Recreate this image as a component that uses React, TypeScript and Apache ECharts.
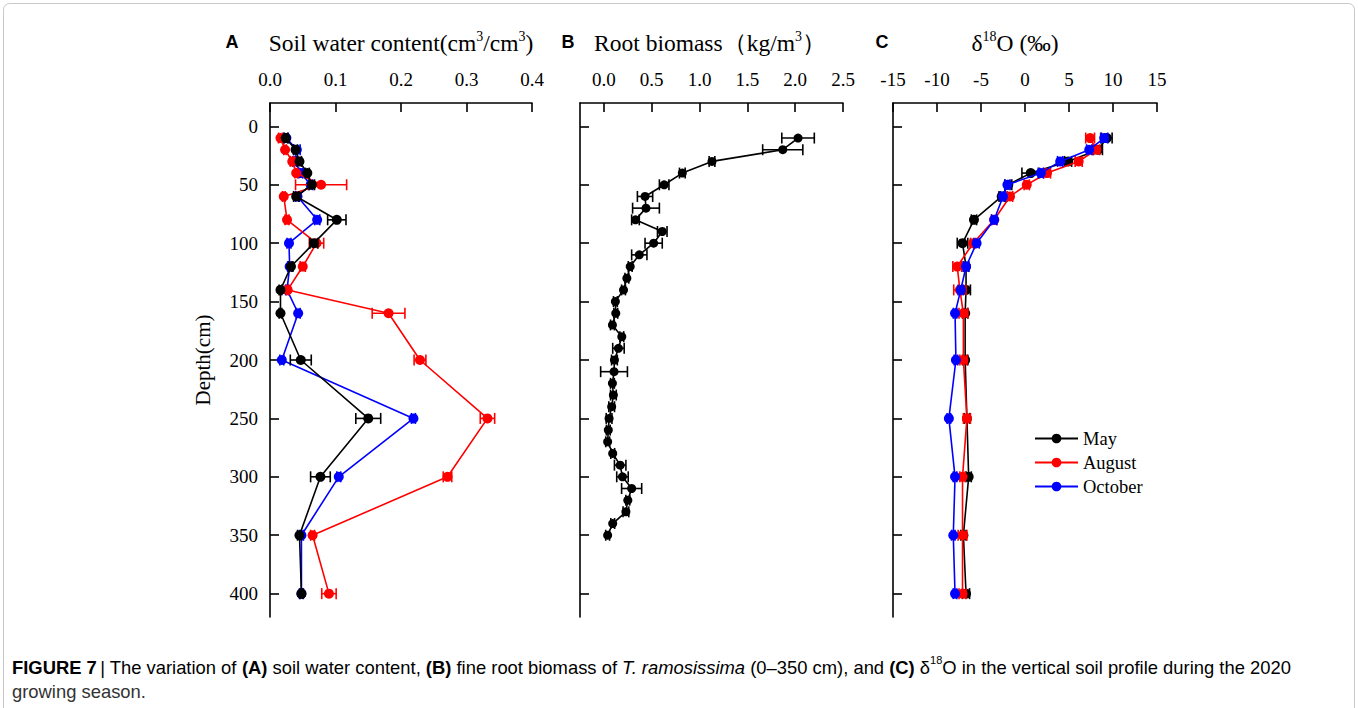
import React, { useEffect, useRef } from 'react';
import * as echarts from 'echarts';

// ---------- Data ----------
const depthA = [10, 20, 30, 40, 50, 60, 80, 100, 120, 140, 160, 200, 250, 300, 350, 400];
const swcMay = [0.024, 0.039, 0.045, 0.057, 0.064, 0.040, 0.102, 0.067, 0.032, 0.016, 0.016, 0.047, 0.150, 0.077, 0.045, 0.048];
const swcMayErr = [0.003, 0.003, 0.003, 0.003, 0.004, 0.004, 0.014, 0.006, 0.003, 0.002, 0.002, 0.016, 0.019, 0.015, 0.003, 0.002];
const swcAug = [0.016, 0.023, 0.034, 0.040, 0.078, 0.021, 0.026, 0.071, 0.050, 0.027, 0.181, 0.229, 0.332, 0.271, 0.065, 0.090];
const swcAugErr = [0.003, 0.002, 0.003, 0.002, 0.039, 0.002, 0.003, 0.011, 0.004, 0.002, 0.025, 0.009, 0.011, 0.0065, 0.003, 0.011];
const swcOct = [0.025, 0.041, 0.038, 0.047, 0.062, 0.042, 0.072, 0.029, 0.030, 0.026, 0.043, 0.018, 0.219, 0.105, 0.048, 0.048];
const swcOctErr = [0.003, 0.005, 0.003, 0.003, 0.003, 0.003, 0.004, 0.003, 0.003, 0.002, 0.003, 0.003, 0.003, 0.003, 0.003, 0.003];

const depthB = [10, 20, 30, 40, 50, 60, 70, 80, 90, 100, 110, 120, 130, 140, 150, 160, 170, 180, 190, 200, 210, 220, 230, 240, 250, 260, 270, 280, 290, 300, 310, 320, 330, 340, 350];
const rootBiomass = [2.03, 1.87, 1.13, 0.82, 0.63, 0.43, 0.44, 0.33, 0.61, 0.52, 0.37, 0.275, 0.24, 0.205, 0.12, 0.124, 0.089, 0.187, 0.152, 0.11, 0.106, 0.089, 0.099, 0.081, 0.054, 0.046, 0.039, 0.092, 0.17, 0.194, 0.29, 0.25, 0.23, 0.092, 0.039];
const rootBiomassErr = [0.17, 0.21, 0.03, 0.03, 0.05, 0.08, 0.14, 0.04, 0.05, 0.09, 0.08, 0.02, 0.02, 0.02, 0.02, 0.02, 0.02, 0.02, 0.06, 0.03, 0.14, 0.02, 0.03, 0.03, 0.03, 0.02, 0.02, 0.02, 0.06, 0.06, 0.105, 0.02, 0.03, 0.02, 0.02];

const depthC = [10, 20, 30, 40, 50, 60, 80, 100, 120, 140, 160, 200, 250, 300, 350, 400];
const d18oMay = [9.3, 8.3, 4.9, 0.65, -1.9, -2.65, -5.8, -7.1, -6.7, -6.7, -6.8, -6.8, -6.6, -6.4, -7.0, -6.7];
const d18oMayErr = [0.6, 0.5, 0.4, 1.0, 0.4, 0.3, 0.3, 0.6, 0.3, 0.5, 0.3, 0.3, 0.3, 0.3, 0.3, 0.4];
const d18oAug = [7.4, 8.1, 6.1, 2.5, 0.2, -1.7, -3.5, -5.9, -7.7, -7.4, -7.0, -7.0, -6.6, -7.1, -7.1, -7.1];
const d18oAugErr = [0.5, 0.4, 0.4, 0.4, 0.3, 0.3, 0.3, 0.3, 0.5, 0.7, 0.5, 0.4, 0.4, 0.3, 0.5, 0.4];
const d18oOct = [9.0, 7.3, 4.0, 1.8, -2.0, -2.5, -3.5, -5.5, -6.7, -7.3, -7.95, -7.85, -8.65, -7.95, -8.15, -7.95];
const d18oOctErr = [0.4, 0.3, 0.3, 0.3, 0.3, 0.3, 0.3, 0.3, 0.3, 0.3, 0.2, 0.2, 0.2, 0.2, 0.2, 0.2];

const depthTicks = [0, 50, 100, 150, 200, 250, 300, 350, 400];
const biomassTicks = [0, 0.5, 1.0, 1.5, 2.0, 2.5];
const legendNames = ['May', 'August', 'October'];

const SERIF = '"Liberation Serif", "Times New Roman", serif';
const SANS = '"Liberation Sans", Arial, sans-serif';

const C_MAY = '#000000';
const C_AUG = '#ff0000';
const C_OCT = '#0000ff';

function lineSeries(name: string, xs: number[], ys: number[], idx: number, color: string, z: number, size = 10) {
  return {
    type: 'line',
    name,
    xAxisIndex: idx,
    yAxisIndex: idx,
    data: xs.map((v, i) => [v, ys[i]]),
    symbol: 'circle',
    symbolSize: size,
    showSymbol: true,
    color,
    itemStyle: { color },
    lineStyle: { color, width: 1.6 },
    z,
    silent: true,
  };
}

function errSeries(name: string, xs: number[], ys: number[], es: number[], idx: number, color: string, z: number) {
  return {
    type: 'custom',
    name: name + ' err',
    xAxisIndex: idx,
    yAxisIndex: idx,
    data: xs.map((v, i) => [v, ys[i], es[i]]),
    encode: { x: 0, y: 1 },
    color,
    itemStyle: { color },
    z,
    silent: true,
    renderItem: (params: any, api: any) => {
      const x = api.value(0);
      const y = api.value(1);
      const e = api.value(2);
      const p1 = api.coord([x - e, y]);
      const p2 = api.coord([x + e, y]);
      const h = 5.5;
      const st = { stroke: color, lineWidth: 1.6 };
      return {
        type: 'group',
        children: [
          { type: 'line', shape: { x1: p1[0], y1: p1[1], x2: p2[0], y2: p2[1] }, style: st },
          { type: 'line', shape: { x1: p1[0], y1: p1[1] - h, x2: p1[0], y2: p1[1] + h }, style: st },
          { type: 'line', shape: { x1: p2[0], y1: p2[1] - h, x2: p2[0], y2: p2[1] + h }, style: st },
        ],
      };
    },
  };
}

const axisLineStyle = { color: '#000', width: 1.6 };

function xAxisCfg(idx: number, min: number, max: number, extra: any) {
  return {
    type: 'value',
    gridIndex: idx,
    position: 'top',
    min,
    max,
    axisLine: { show: true, onZero: false, lineStyle: axisLineStyle },
    axisTick: { show: true, inside: true, length: 9, lineStyle: axisLineStyle },
    axisLabel: { fontFamily: SERIF, fontSize: 19, color: '#000', margin: 14 },
    splitLine: { show: false },
    ...extra,
  };
}

function yAxisCfg(idx: number, showLabel: boolean) {
  return {
    type: 'value',
    gridIndex: idx,
    inverse: true,
    min: -20,
    max: 420,
    axisLine: { show: true, onZero: false, lineStyle: axisLineStyle },
    axisTick: { show: true, inside: true, length: 9, lineStyle: axisLineStyle, customValues: depthTicks },
    axisLabel: { show: showLabel, fontFamily: SERIF, fontSize: 19, color: '#000', margin: 12, customValues: depthTicks },
    splitLine: { show: false },
  };
}

const titleRich = {
  n: { fontFamily: SERIF, fontSize: 23.5, color: '#000', lineHeight: 26, verticalAlign: 'bottom' },
  s: { fontFamily: SERIF, fontSize: 14, color: '#000', lineHeight: 26, verticalAlign: 'top' },
};

const option: any = {
  animation: false,
  backgroundColor: '#ffffff',
  grid: [
    { left: 270, top: 103, width: 262, height: 514 },
    { left: 580, top: 103, width: 263, height: 514 },
    { left: 893, top: 103, width: 264, height: 514 },
  ],
  xAxis: [
    xAxisCfg(0, 0, 0.4, { interval: 0.1, axisLabel: { fontFamily: SERIF, fontSize: 19, color: '#000', margin: 14, formatter: (v: number) => v.toFixed(1) } }),
    xAxisCfg(1, -0.25, 2.5, {
      axisTick: { show: true, inside: true, length: 9, lineStyle: axisLineStyle, customValues: biomassTicks },
      axisLabel: { fontFamily: SERIF, fontSize: 19, color: '#000', margin: 14, customValues: biomassTicks, formatter: (v: number) => v.toFixed(1) },
    }),
    xAxisCfg(2, -15, 15, { interval: 5 }),
  ],
  yAxis: [yAxisCfg(0, true), yAxisCfg(1, false), yAxisCfg(2, false)],
  legend: {
    data: legendNames,
    orient: 'vertical',
    left: 1029,
    top: 424,
    itemWidth: 43,
    itemHeight: 12,
    itemGap: 5,
    textStyle: { fontFamily: SERIF, fontSize: 18.5, color: '#000', lineHeight: 18.5 },
    selectedMode: false,
  },
  series: [
    // Panel C lines first so legend picks line icons
    lineSeries('May', d18oMay, depthC, 2, C_MAY, 2),
    lineSeries('August', d18oAug, depthC, 2, C_AUG, 3),
    lineSeries('October', d18oOct, depthC, 2, C_OCT, 4),
    errSeries('May', d18oMay, depthC, d18oMayErr, 2, C_MAY, 2),
    errSeries('August', d18oAug, depthC, d18oAugErr, 2, C_AUG, 3),
    errSeries('October', d18oOct, depthC, d18oOctErr, 2, C_OCT, 4),
    // Panel A
    lineSeries('October', swcOct, depthA, 0, C_OCT, 2),
    lineSeries('August', swcAug, depthA, 0, C_AUG, 3),
    lineSeries('May', swcMay, depthA, 0, C_MAY, 4),
    errSeries('October', swcOct, depthA, swcOctErr, 0, C_OCT, 2),
    errSeries('August', swcAug, depthA, swcAugErr, 0, C_AUG, 3),
    errSeries('May', swcMay, depthA, swcMayErr, 0, C_MAY, 4),
    // Panel B
    lineSeries('Root biomass', rootBiomass, depthB, 1, C_MAY, 3, 9),
    errSeries('Root biomass', rootBiomass, depthB, rootBiomassErr, 1, C_MAY, 3),
  ],
  graphic: [
    {
      type: 'rect',
      shape: { x: 3.5, y: 3.5, width: 1351, height: 712, r: 6 },
      style: { fill: 'none', stroke: '#c8c8c8', lineWidth: 1 },
      silent: true,
      z: -1,
    },
    { type: 'text', x: 232, y: 42, style: { text: 'A', font: `bold 18px ${SANS}`, fill: '#000', textAlign: 'center', textVerticalAlign: 'middle' } },
    { type: 'text', x: 568, y: 42, style: { text: 'B', font: `bold 18px ${SANS}`, fill: '#000', textAlign: 'center', textVerticalAlign: 'middle' } },
    { type: 'text', x: 882, y: 42, style: { text: 'C', font: `bold 18px ${SANS}`, fill: '#000', textAlign: 'center', textVerticalAlign: 'middle' } },
    {
      type: 'text',
      x: 401,
      y: 42,
      style: { text: '{n|Soil water content(cm}{s|3}{n|/cm}{s|3}{n|)}', textAlign: 'center', textVerticalAlign: 'middle', rich: titleRich },
    },
    {
      type: 'text',
      x: 710,
      y: 42,
      style: { text: '{n|Root biomass（kg/m}{s|3}{n|）}', textAlign: 'center', textVerticalAlign: 'middle', rich: titleRich },
    },
    {
      type: 'text',
      x: 1015,
      y: 42,
      style: { text: '{n|δ}{s|18}{n|O (‰)}', textAlign: 'center', textVerticalAlign: 'middle', rich: titleRich },
    },
    {
      type: 'text',
      x: 203,
      y: 360,
      rotation: Math.PI / 2,
      style: { text: 'Depth(cm)', font: `21px ${SERIF}`, fill: '#000', textAlign: 'center', textVerticalAlign: 'middle' },
    },
    {
      type: 'text',
      x: 12,
      y: 665,
      style: {
        text:
          '{b|FIGURE 7} {n|| The variation of }{b|(A)}{n| soil water content, }{b|(B)}{n| fine root biomass of }{i|T. ramosissima}{n| (0–350 cm), and }{b|(C)}{n| δ}{s|18}{n|O in the vertical soil profile during the 2020}',
        textAlign: 'left',
        textVerticalAlign: 'middle',
        rich: {
          n: { fontFamily: SANS, fontSize: 18.4, color: '#333', lineHeight: 22, verticalAlign: 'bottom' },
          b: { fontFamily: SANS, fontSize: 18.4, fontWeight: 'bold', color: '#222', lineHeight: 22, verticalAlign: 'bottom' },
          i: { fontFamily: SANS, fontSize: 18.4, fontStyle: 'italic', color: '#333', lineHeight: 22, verticalAlign: 'bottom' },
          s: { fontFamily: SANS, fontSize: 11, color: '#333', lineHeight: 22, verticalAlign: 'top' },
        },
      },
    },
    {
      type: 'text',
      x: 12,
      y: 691,
      style: { text: 'growing season.', font: `18.4px ${SANS}`, fill: '#333', textAlign: 'left', textVerticalAlign: 'middle' },
    },
  ],
};

export default function App() {
  const ref = useRef<HTMLDivElement>(null);
  useEffect(() => {
    document.body.style.margin = '0';
    const chart = echarts.init(ref.current!, null, { renderer: 'svg' });
    chart.setOption(option);
    return () => chart.dispose();
  }, []);
  return <div ref={ref} style={{ width: 1358, height: 708, position: 'absolute', left: 0, top: 0 }} />;
}
